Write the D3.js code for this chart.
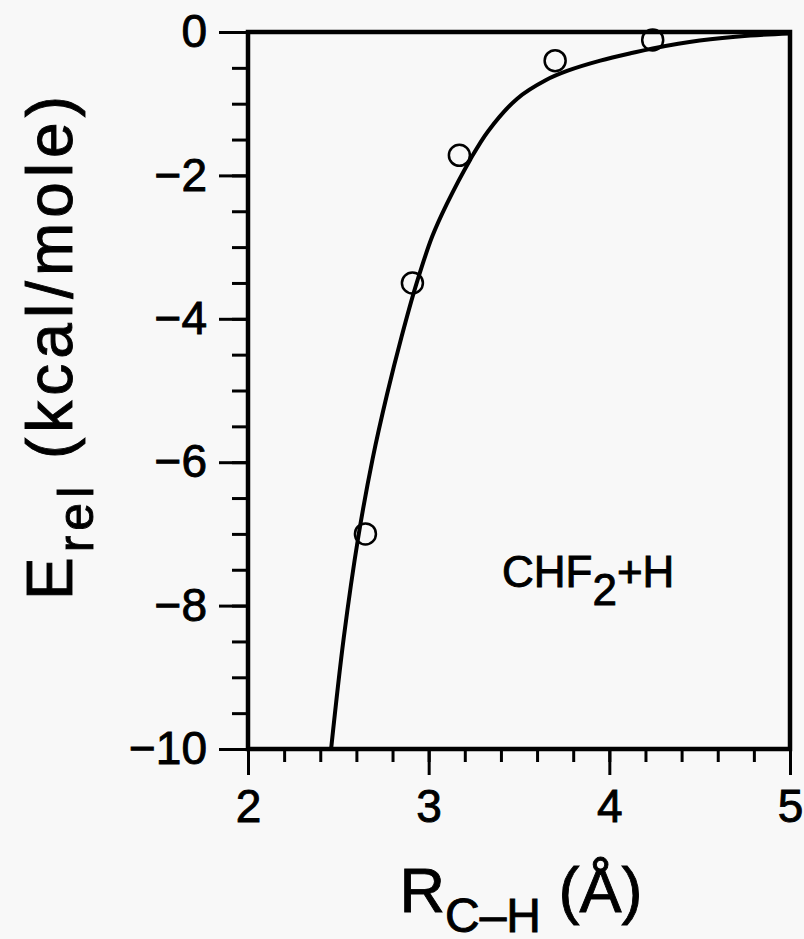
<!DOCTYPE html>
<html>
<head>
<meta charset="utf-8">
<script src="https://cdn.jsdelivr.net/npm/d3@7"></script>
<style>
  body { margin: 0; background: #f8f8f8; }
  svg { display: block; }
  text { font-family: "Liberation Sans", Arial, sans-serif; fill: #000; stroke: #000; stroke-width: 0.9px; }
</style>
</head>
<body>
<div id="chart"></div>
<script>
var width = 804,
  height = 939;

// fitted curve
var curveR = [2.46, 2.53, 2.61, 2.69, 2.77, 2.85, 2.93, 3.02, 3.10, 3.23, 3.33, 3.49, 3.65, 3.77, 3.95, 4.13, 4.24, 4.50, 4.78, 5.00];
var curveE = [-10, -8.45, -7.05, -5.95, -5.05, -4.25, -3.53, -2.85, -2.40, -1.78, -1.38, -0.93, -0.67, -0.54, -0.40, -0.29, -0.23, -0.12, -0.05, -0.02];

// computed points (circles)
var pointR = [2.65, 2.91, 3.17, 3.70, 4.24];
var pointE = [-7.0, -3.5, -1.72, -0.40, -0.11];

var xMajor = [2, 3, 4, 5];
var yMajor = [0, -2, -4, -6, -8, -10];

var plotLeft = 248, plotRight = 790, plotTop = 32, plotBottom = 749;

var x = d3.scaleLinear().domain([2, 5]).range([plotLeft, plotRight]);
var y = d3.scaleLinear().domain([0, -10]).range([plotTop, plotBottom]);

var svg = d3.select("#chart").append("svg")
  .attr("width", width)
  .attr("height", height);

// minor ticks
var xMinorAxis = d3.axisBottom(x)
  .tickValues(d3.range(2, 5.001, 0.2))
  .tickSize(13)
  .tickFormat("");
var yMinorAxis = d3.axisLeft(y)
  .tickValues(d3.range(0, -10.001, -0.5))
  .tickSize(16)
  .tickFormat("");

svg.append("g")
  .attr("class", "minor")
  .attr("transform", "translate(0," + plotBottom + ")")
  .call(xMinorAxis);
svg.append("g")
  .attr("class", "minor")
  .attr("transform", "translate(" + plotLeft + ",0)")
  .call(yMinorAxis);

// major ticks with labels
var xAxis = d3.axisBottom(x)
  .tickValues(xMajor)
  .tickSize(26)
  .tickPadding(14)
  .tickFormat(d3.format("d"));
var yAxis = d3.axisLeft(y)
  .tickValues(yMajor)
  .tickSize(29)
  .tickPadding(12)
  .tickFormat(d3.format("d"));

svg.append("g")
  .attr("class", "major")
  .attr("transform", "translate(0," + plotBottom + ")")
  .call(xAxis);
svg.append("g")
  .attr("class", "major")
  .attr("transform", "translate(" + plotLeft + ",0)")
  .call(yAxis);

svg.selectAll(".domain").remove();
svg.selectAll(".tick line")
  .attr("stroke", "#000")
  .attr("stroke-width", 3);
svg.selectAll(".major")
  .attr("font-family", null)
  .attr("font-size", null);
svg.selectAll(".major .tick text")
  .style("font-size", "46px")
  .attr("fill", "#000");

// frame
svg.append("rect")
  .attr("x", plotLeft)
  .attr("y", plotTop)
  .attr("width", plotRight - plotLeft)
  .attr("height", plotBottom - plotTop)
  .attr("fill", "none")
  .attr("stroke", "#000")
  .attr("stroke-width", 4.5);

// curve
var curveData = curveR.map(function(r, i) { return [r, curveE[i]]; });
var line = d3.line()
  .x(function(d) { return x(d[0]); })
  .y(function(d) { return y(d[1]); })
  .curve(d3.curveCatmullRom.alpha(0.5));

svg.append("path")
  .datum(curveData)
  .attr("d", line)
  .attr("fill", "none")
  .attr("stroke", "#000")
  .attr("stroke-width", 4);

// points
svg.selectAll("circle.pt")
  .data(pointR.map(function(r, i) { return [r, pointE[i]]; }))
  .enter().append("circle")
  .attr("class", "pt")
  .attr("cx", function(d) { return x(d[0]); })
  .attr("cy", function(d) { return y(d[1]); })
  .attr("r", 10.5)
  .attr("fill", "none")
  .attr("stroke", "#000")
  .attr("stroke-width", 2.5);

// label inside plot
var lab = svg.append("text")
  .attr("x", 502)
  .attr("y", 587)
  .style("font-size", "44px");
lab.append("tspan").text("CHF");
lab.append("tspan").attr("dy", 18).text("2");
lab.append("tspan").attr("dy", -18).text("+H");

// x title
var xt = svg.append("text")
  .attr("x", 521)
  .attr("y", 912)
  .attr("text-anchor", "middle")
  .style("font-size", "63px");
xt.append("tspan").text("R");
xt.append("tspan").attr("dy", 20).style("font-size", "48px").text("C\u2013H");
xt.append("tspan").attr("dy", -20).text(" (\u00c5)");

// y title
var yt = svg.append("text")
  .attr("transform", "translate(72,600) rotate(-90)")
  .attr("text-anchor", "start")
  .style("font-size", "64px")
  .style("letter-spacing", "5px");
yt.append("tspan").text("E");
yt.append("tspan").attr("dy", 21).style("font-size", "50px").text("rel");
yt.append("tspan").attr("dy", -21).text(" (kcal/mole)");
</script>
</body>
</html>
